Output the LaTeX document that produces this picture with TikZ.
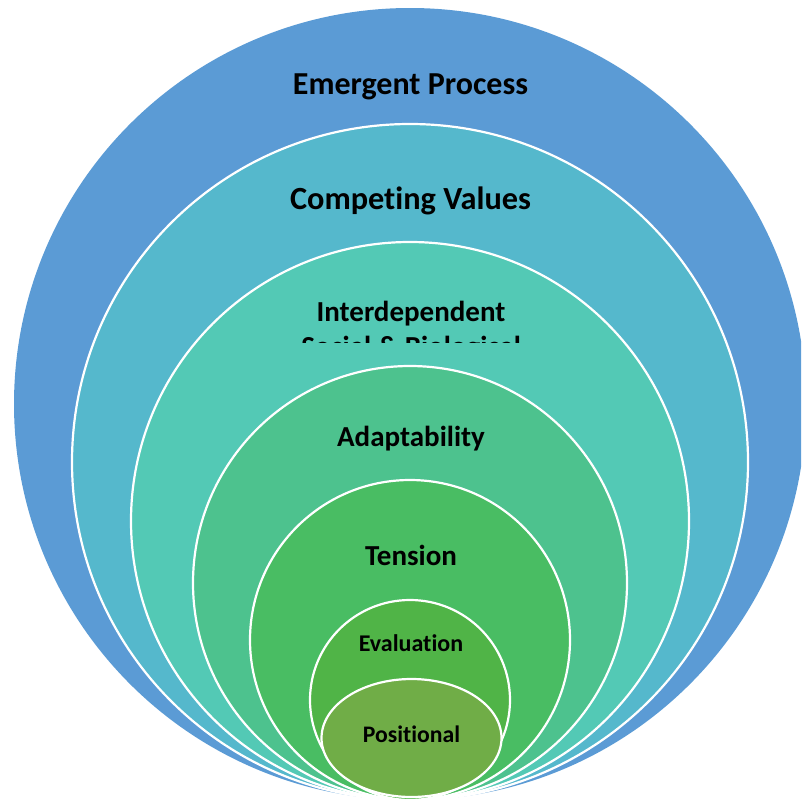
\documentclass[tikz,border=0pt]{standalone}
\usepackage{fontspec}
\setmainfont[Ligatures=NoCommon]{Carlito}
\usetikzlibrary{shapes.geometric}
\definecolor{cA}{HTML}{5B9BD5}
\definecolor{cB}{HTML}{55B8CC}
\definecolor{cC}{HTML}{53C9B5}
\definecolor{cD}{HTML}{4DC28E}
\definecolor{cE}{HTML}{49BD63}
\definecolor{cF}{HTML}{50B447}
\definecolor{cG}{HTML}{70AD47}
\tikzset{
  ring/.style={circle, inner sep=0pt, draw=white, line width=2.2pt},
  lbl/.style={anchor=base, inner sep=0pt, text=black, font=\bfseries}
}
\begin{document}
\begin{tikzpicture}[x=1pt,y=-1pt]
\useasboundingbox (0,0) rectangle (801,803);
\clip (0,0) rectangle (801,803);
\node[ring, fill=cA, draw=none, minimum size=792pt] (c1) at (410,404) {};
\node[lbl, font=\bfseries\fontsize{32}{38}\selectfont] (t1) at (410.5,94) {Emergent Process};
\node[ring, fill=cB, minimum size=676pt] (c2) at (410,462) {};
\node[lbl, font=\bfseries\fontsize{32.3}{38}\selectfont] (t2) at (410.5,209) {Competing Values};
\node[ring, fill=cC, minimum size=558pt] (c3) at (410,521) {};
\node[lbl, font=\bfseries\fontsize{29}{35}\selectfont] (t3) at (411,321) {Interdependent};
\begin{scope}
\clip (0,0) rectangle (801,342);
\node[lbl, font=\bfseries\fontsize{29}{35}\selectfont] (t3b) at (411,356) {Social \& Biological};
\end{scope}
\node[ring, fill=cD, minimum size=434pt] (c4) at (410,583) {};
\node[lbl, font=\bfseries\fontsize{29}{35}\selectfont] (t4) at (411,446) {Adaptability};
\node[ring, fill=cE, minimum size=320pt] (c5) at (410,640) {};
\node[lbl, font=\bfseries\fontsize{29}{35}\selectfont] (t5) at (411,565) {Tension};
\node[ring, fill=cF, minimum size=200pt] (c6) at (410,700) {};
\node[lbl, font=\bfseries\fontsize{24}{28}\selectfont] (t6) at (411,651) {Evaluation};
\node[ellipse, inner sep=0pt, draw=white, line width=2.2pt, fill=cG, minimum width=180pt, minimum height=118pt] (c7) at (411.5,738) {};
\node[lbl, font=\bfseries\fontsize{23.7}{28}\selectfont] (t7) at (411.5,742) {Positional};
\end{tikzpicture}
\end{document}
